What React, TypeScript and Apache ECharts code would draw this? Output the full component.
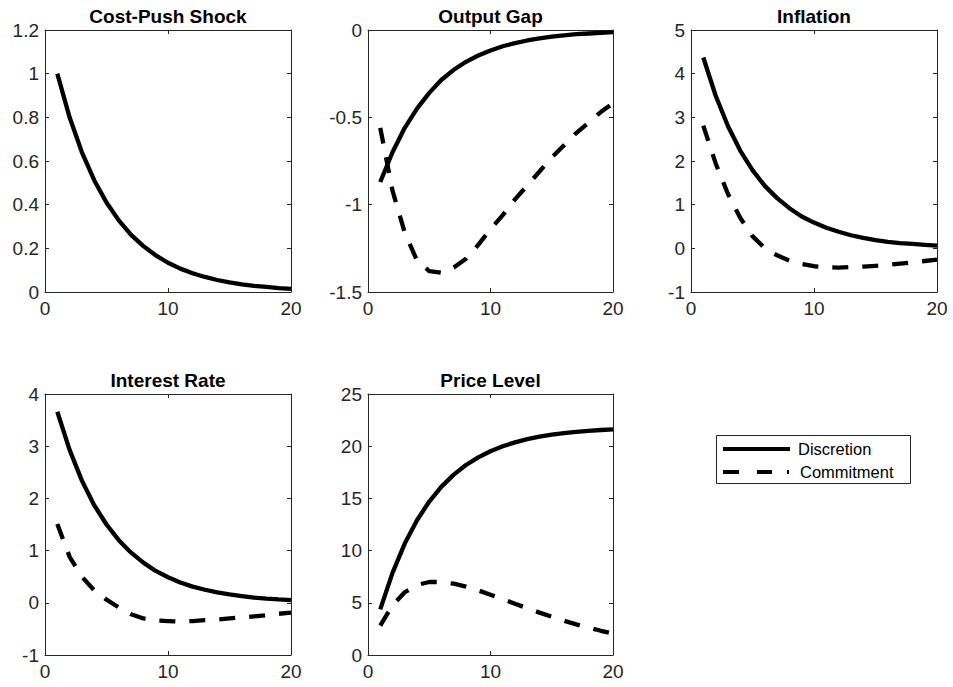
import React, { useEffect, useRef } from "react";
import * as echarts from "echarts";

const periods = [1, 2, 3, 4, 5, 6, 7, 8, 9, 10, 11, 12, 13, 14, 15, 16, 17, 18, 19, 20];

const costPush = [1.0, 0.8, 0.64, 0.512, 0.41, 0.328, 0.262, 0.21, 0.168, 0.134, 0.107, 0.086, 0.069, 0.055, 0.044, 0.035, 0.028, 0.023, 0.018, 0.014];
const gapDisc = [-0.87, -0.7, -0.56, -0.45, -0.36, -0.285, -0.228, -0.182, -0.146, -0.117, -0.093, -0.075, -0.06, -0.048, -0.038, -0.031, -0.024, -0.02, -0.016, -0.012];
const gapComm = [-0.56, -0.92, -1.16, -1.32, -1.38, -1.39, -1.36, -1.31, -1.23, -1.14, -1.06, -0.97, -0.89, -0.81, -0.73, -0.66, -0.59, -0.53, -0.47, -0.42];
const inflDisc = [4.37, 3.5, 2.8, 2.24, 1.79, 1.43, 1.15, 0.92, 0.73, 0.59, 0.47, 0.38, 0.3, 0.24, 0.19, 0.15, 0.12, 0.1, 0.08, 0.06];
const inflComm = [2.81, 1.95, 1.25, 0.7, 0.28, 0.0, -0.16, -0.28, -0.36, -0.41, -0.43, -0.44, -0.43, -0.42, -0.4, -0.38, -0.35, -0.32, -0.29, -0.26];
const rateDisc = [3.66, 2.93, 2.34, 1.87, 1.5, 1.2, 0.96, 0.77, 0.61, 0.49, 0.39, 0.31, 0.25, 0.2, 0.16, 0.13, 0.1, 0.08, 0.066, 0.053];
const rateComm = [1.51, 0.88, 0.5, 0.24, 0.06, -0.09, -0.22, -0.3, -0.34, -0.35, -0.36, -0.35, -0.33, -0.32, -0.3, -0.28, -0.26, -0.24, -0.21, -0.19];
const priceDisc = [4.37, 7.87, 10.67, 12.91, 14.7, 16.13, 17.28, 18.2, 18.93, 19.52, 19.99, 20.37, 20.67, 20.91, 21.1, 21.25, 21.37, 21.47, 21.55, 21.61];
const priceComm = [2.81, 4.76, 6.01, 6.71, 6.99, 6.99, 6.83, 6.55, 6.19, 5.78, 5.35, 4.91, 4.48, 4.06, 3.66, 3.28, 2.93, 2.61, 2.32, 2.06];

const titles = ["Cost-Push Shock", "Output Gap", "Inflation", "Interest Rate", "Price Level"];
const yMins = [0, -1.5, -1, -1, 0];
const yMaxs = [1.2, 0, 5, 4, 25];
const yIntervals = [0.2, 0.5, 1, 1, 5];
const xTickMin = 0;
const xTickMax = 20;
const xTickInterval = 10;
const seriesNames = ["Discretion", "Commitment"];

const FONT = "'Liberation Sans', Arial, Helvetica, sans-serif";
const AXIS_COLOR = "#262626";

const grids = [
  { left: 45, top: 30, width: 246, height: 262 },
  { left: 368, top: 30, width: 245, height: 262 },
  { left: 691, top: 30, width: 246, height: 262 },
  { left: 45, top: 394, width: 246, height: 261 },
  { left: 368, top: 394, width: 245, height: 261 },
];

const legendBox = { x: 716, y: 435, width: 194, height: 48 };

export default function App() {
  const ref = useRef<HTMLDivElement>(null);

  useEffect(() => {
    if (!ref.current) return;
    const chart = echarts.init(ref.current, undefined, { renderer: "svg" });

    const xAxes: any[] = [];
    const yAxes: any[] = [];
    grids.forEach((_, i) => {
      const baseX = {
        type: "value",
        gridIndex: i,
        min: xTickMin,
        max: xTickMax,
        interval: xTickInterval,
        axisLine: { show: true, onZero: false, lineStyle: { color: AXIS_COLOR, width: 1 } },
        axisTick: { show: true, inside: true, length: 4, lineStyle: { color: AXIS_COLOR } },
        splitLine: { show: false },
      };
      xAxes.push({
        ...baseX,
        position: "bottom",
        axisLabel: { show: true, color: AXIS_COLOR, fontSize: 19, fontFamily: FONT, margin: 7 },
      });
      xAxes.push({ ...baseX, position: "top", axisLabel: { show: false } });
      const baseY = {
        type: "value",
        gridIndex: i,
        min: yMins[i],
        max: yMaxs[i],
        interval: yIntervals[i],
        axisLine: { show: true, onZero: false, lineStyle: { color: AXIS_COLOR, width: 1 } },
        axisTick: { show: true, inside: true, length: 4, lineStyle: { color: AXIS_COLOR } },
        splitLine: { show: false },
      };
      yAxes.push({
        ...baseY,
        position: "left",
        axisLabel: { show: true, color: AXIS_COLOR, fontSize: 19, fontFamily: FONT, margin: 6 },
      });
      yAxes.push({ ...baseY, position: "right", axisLabel: { show: false } });
    });

    const toData = (vals: number[]) => periods.map((p, k) => [p, vals[k]]);
    const solid = { color: "#000", width: 4.3, type: "solid" as const };
    const dashed = { color: "#000", width: 4.3, type: [16, 14] };

    const mk = (name: string, vals: number[], i: number, style: any) => ({
      name,
      type: "line",
      xAxisIndex: 2 * i,
      yAxisIndex: 2 * i,
      data: toData(vals),
      showSymbol: false,
      symbol: "none",
      smooth: false,
      lineStyle: style,
      itemStyle: { color: "#000" },
      clip: false,
    });

    const series = [
      mk("Cost-Push Shock", costPush, 0, solid),
      mk(seriesNames[0], gapDisc, 1, solid),
      mk(seriesNames[1], gapComm, 1, dashed),
      mk(seriesNames[0], inflDisc, 2, solid),
      mk(seriesNames[1], inflComm, 2, dashed),
      mk(seriesNames[0], rateDisc, 3, solid),
      mk(seriesNames[1], rateComm, 3, dashed),
      mk(seriesNames[0], priceDisc, 4, solid),
      mk(seriesNames[1], priceComm, 4, dashed),
    ];

    const titleGraphics = grids.map((g, i) => ({
      type: "text",
      x: g.left + g.width / 2,
      y: g.top - 14,
      style: {
        text: titles[i],
        fontSize: 19,
        fontWeight: "bold",
        fontFamily: FONT,
        fill: "#000",
        textAlign: "center",
        textVerticalAlign: "middle",
      },
    }));

    const lb = legendBox;
    const row1 = lb.y + 14;
    const row2 = lb.y + 37;
    const legendGraphics = [
      {
        type: "rect",
        shape: { x: lb.x + 0.5, y: lb.y + 0.5, width: lb.width, height: lb.height },
        style: { fill: "#fff", stroke: AXIS_COLOR, lineWidth: 1 },
        z: 10,
      },
      {
        type: "line",
        shape: { x1: lb.x + 7, y1: row1, x2: lb.x + 74, y2: row1 },
        style: { stroke: "#000", lineWidth: 4 },
        z: 11,
      },
      {
        type: "line",
        shape: { x1: lb.x + 7, y1: row2, x2: lb.x + 74, y2: row2 },
        style: { stroke: "#000", lineWidth: 4, lineDash: [16, 18, 15, 15, 2, 10] },
        z: 11,
      },
      {
        type: "text",
        x: lb.x + 82,
        y: row1,
        style: {
          text: seriesNames[0],
          fontSize: 16.5,
          fontFamily: FONT,
          fill: "#000",
          textAlign: "left",
          textVerticalAlign: "middle",
        },
        z: 11,
      },
      {
        type: "text",
        x: lb.x + 84,
        y: row2,
        style: {
          text: seriesNames[1],
          fontSize: 16.5,
          fontFamily: FONT,
          fill: "#000",
          textAlign: "left",
          textVerticalAlign: "middle",
        },
        z: 11,
      },
    ];

    chart.setOption({
      animation: false,
      backgroundColor: "#fff",
      grid: grids.map((g) => ({ ...g, containLabel: false })),
      xAxis: xAxes,
      yAxis: yAxes,
      series,
      graphic: [...titleGraphics, ...legendGraphics],
    });

    return () => chart.dispose();
  }, []);

  return (
    <div
      ref={ref}
      style={{ position: "fixed", left: 0, top: 0, width: 953, height: 687, background: "#fff" }}
    />
  );
}
